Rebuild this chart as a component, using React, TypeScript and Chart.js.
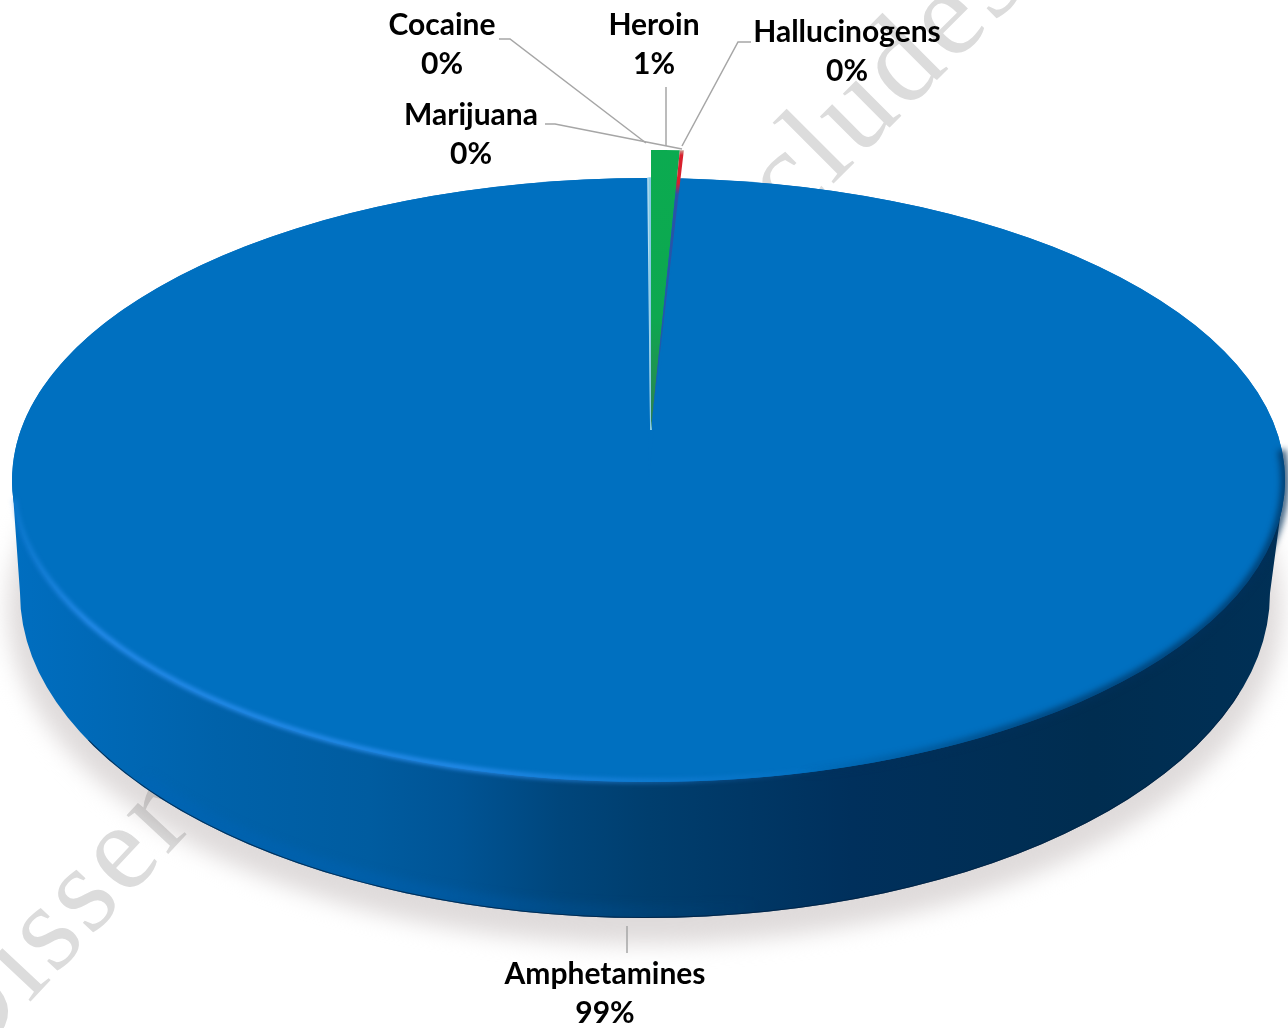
import React, { useEffect, useRef } from "react";
import { Chart, registerables } from "chart.js";

Chart.register(...registerables);

const categories = ["Amphetamines", "Marijuana", "Cocaine", "Heroin", "Hallucinogens"];
const shares = [99.1, 0.04, 0.04, 0.72, 0.1];
const sliceColors = ["#0070c0", "#b5dcef", "#86cbe6", "#0bab50", "#d8202c"];
const labelCenters = [
  [605, 974],
  [471, 115],
  [442, 25],
  [654, 25],
  [847, 32],
];
const leaderLines = [
  [[627, 926], [627, 953]],
  [[545, 124], [555, 124], [682, 149]],
  [[499, 39], [510, 39], [646, 143]],
  [[666, 87], [666, 146]],
  [[751, 42], [738, 42], [682, 146]],
];
const watermarkParts = [
  { text: "Disser", x: -35, y: 1072, angle: -47 },
  { text: "cludes", x: 790, y: 227, angle: -45 },
];

const FONT = 'bold 30px Lato, "Open Sans", sans-serif';
const TOP = { x: 648.5, y: 480, rx: 636.5, ry: 302 };
const BASE = { x: 645, y: 593, rx: 625, ry: 325 };
const WEDGE = { x: 651, y: 430, rx: 638, ry: 280 };

function transformTo(ctx: any, arc: any, t: any) {
  const R = arc.outerRadius;
  ctx.translate(t.x, t.y);
  ctx.scale(t.rx / R, t.ry / R);
  ctx.translate(-arc.x, -arc.y);
}

const pie3d = {
  id: "pie3d",
  beforeDatasetsDraw(chart: any) {
    const ctx = chart.ctx;
    const arcs = chart.getDatasetMeta(0).data;

    // soft shadow
    ctx.save();
    ctx.globalCompositeOperation = "multiply";
    ctx.filter = "blur(11px)";
    ctx.fillStyle = "#dfdbdb";
    ctx.beginPath();
    ctx.ellipse(BASE.x, BASE.y + 16, BASE.rx + 12, BASE.ry + 10, 0, 0, Math.PI * 2);
    ctx.fill();
    ctx.restore();

    // side wall
    const wall = ctx.createLinearGradient(TOP.x - TOP.rx, 0, TOP.x + TOP.rx, 0);
    wall.addColorStop(0, "#006ec0");
    wall.addColorStop(0.16, "#0062aa");
    wall.addColorStop(0.28, "#005ca0");
    wall.addColorStop(0.35, "#005495");
    wall.addColorStop(0.43, "#00467c");
    wall.addColorStop(0.5, "#003e6e");
    wall.addColorStop(0.66, "#00305c");
    wall.addColorStop(0.85, "#002d50");
    wall.addColorStop(1, "#003056");
    const wallPath = () => {
      ctx.beginPath();
      ctx.moveTo(TOP.x - TOP.rx, TOP.y);
      ctx.lineTo(BASE.x - BASE.rx, BASE.y);
      ctx.ellipse(BASE.x, BASE.y, BASE.rx, BASE.ry, 0, Math.PI, 0, true);
      ctx.lineTo(TOP.x + TOP.rx, TOP.y);
      ctx.closePath();
    };
    ctx.save();
    ctx.fillStyle = wall;
    wallPath();
    ctx.fill();
    // glow and dark line along the lower edge
    wallPath();
    ctx.clip();
    const glow = ctx.createLinearGradient(350, 0, 760, 0);
    glow.addColorStop(0, "rgba(0,100,185,0.4)");
    glow.addColorStop(1, "rgba(0,100,185,0)");
    ctx.save();
    ctx.filter = "blur(5px)";
    ctx.strokeStyle = glow;
    ctx.lineWidth = 14;
    ctx.beginPath();
    ctx.ellipse(BASE.x, BASE.y, BASE.rx - 6, BASE.ry - 6, 0, Math.PI * 0.8, Math.PI * 0.3, true);
    ctx.stroke();
    ctx.restore();
    ctx.strokeStyle = "rgba(0,32,64,0.75)";
    ctx.lineWidth = 2;
    ctx.beginPath();
    ctx.ellipse(BASE.x, BASE.y, BASE.rx, BASE.ry, 0, Math.PI * 0.85, Math.PI * 0.1, true);
    ctx.stroke();
    ctx.restore();

    // top face
    ctx.save();
    transformTo(ctx, arcs[0], TOP);
    ctx.fillStyle = sliceColors[0];
    ctx.beginPath();
    ctx.arc(arcs[0].x, arcs[0].y, arcs[0].outerRadius, 0, Math.PI * 2);
    ctx.fill();
    arcs[0].draw(ctx);
    ctx.restore();

    // rim light on the left, rim shade on the right
    const light = ctx.createLinearGradient(TOP.x - TOP.rx, 0, TOP.x + TOP.rx, 0);
    light.addColorStop(0, "rgba(43,143,240,0.25)");
    light.addColorStop(0.06, "rgba(43,143,240,0.9)");
    light.addColorStop(0.35, "rgba(43,143,240,0.9)");
    light.addColorStop(0.55, "rgba(43,143,240,0.25)");
    light.addColorStop(0.65, "rgba(43,143,240,0)");
    ctx.save();
    ctx.filter = "blur(2px)";
    ctx.strokeStyle = light;
    ctx.lineWidth = 5;
    ctx.beginPath();
    ctx.ellipse(TOP.x, TOP.y, TOP.rx - 1, TOP.ry - 1, 0, Math.PI * 0.98, Math.PI * 0.35, true);
    ctx.stroke();
    ctx.restore();

    const shade = ctx.createLinearGradient(TOP.x + 150, 0, TOP.x + TOP.rx, 0);
    shade.addColorStop(0, "rgba(0,48,90,0)");
    shade.addColorStop(0.5, "rgba(0,48,90,0.7)");
    shade.addColorStop(1, "rgba(0,48,90,0.8)");
    ctx.save();
    ctx.filter = "blur(3px)";
    ctx.strokeStyle = shade;
    ctx.lineWidth = 8;
    ctx.beginPath();
    ctx.ellipse(TOP.x, TOP.y, TOP.rx, TOP.ry, 0, Math.PI * 0.45, -0.1, true);
    ctx.stroke();
    ctx.restore();

    // the thin slices stand on a nearer apex than the big slice
    arcs.slice(1).forEach((arc: any) => {
      ctx.save();
      transformTo(ctx, arc, WEDGE);
      arc.draw(ctx);
      ctx.restore();
    });
    return false;
  },
  afterDraw(chart: any) {
    const ctx = chart.ctx;
    ctx.save();
    ctx.strokeStyle = "#a6a6a6";
    ctx.lineWidth = 1.5;
    leaderLines.forEach((pts) => {
      ctx.beginPath();
      pts.forEach(([x, y], i) => (i ? ctx.lineTo(x, y) : ctx.moveTo(x, y)));
      ctx.stroke();
    });
    ctx.fillStyle = "#000000";
    ctx.font = FONT;
    ctx.textAlign = "center";
    ctx.textBaseline = "middle";
    categories.forEach((name, i) => {
      const [x, y] = labelCenters[i];
      ctx.fillText(name, x, y);
      ctx.fillText(`${Math.round(shares[i])}%`, x, y + 39);
    });
    ctx.restore();
  },
  beforeDraw(chart: any) {
    const ctx = chart.ctx;
    ctx.save();
    ctx.fillStyle = "#ffffff";
    ctx.fillRect(0, 0, chart.width, chart.height);
    ctx.fillStyle = "#dcdcdc";
    ctx.font = '124px "Liberation Serif", serif';
    ctx.letterSpacing = "4px";
    watermarkParts.forEach((w) => {
      ctx.save();
      ctx.translate(w.x, w.y);
      ctx.rotate((w.angle * Math.PI) / 180);
      ctx.fillText(w.text, 0, 0);
      ctx.restore();
    });
    ctx.restore();
  },
};

function wedgeGradient(c: any, stops: [number, string][]) {
  const area = c.chart.chartArea;
  if (!area) return "#000";
  const R = Math.min(area.right - area.left, area.bottom - area.top) / 2;
  const cy = (area.top + area.bottom) / 2;
  const g = c.chart.ctx.createLinearGradient(0, cy - R, 0, cy);
  stops.forEach(([o, col]) => g.addColorStop(o, col));
  return g;
}

function sliceFill(c: any) {
  const i = c.dataIndex;
  if (i === 4) {
    return wedgeGradient(c, [
      [0, "#c8b0a0"],
      [0.02, "#d8202c"],
      [0.12, "#d8202c"],
      [0.16, "#2a52a8"],
      [1, "#1e5cab"],
    ]);
  }
  if (i === 1 || i === 2) {
    return wedgeGradient(c, [
      [0, "rgba(255,255,255,0)"],
      [0.098, "rgba(255,255,255,0)"],
      [0.1, sliceColors[i]],
      [1, sliceColors[i]],
    ]);
  }
  if (i === 3) {
    return wedgeGradient(c, [
      [0, sliceColors[3]],
      [0.6, "#0da850"],
      [1, "#2f7f50"],
    ]);
  }
  return sliceColors[i];
}

export default function App() {
  const ref = useRef<HTMLCanvasElement | null>(null);
  useEffect(() => {
    if (!ref.current) return;
    const chart = new Chart(ref.current, {
      type: "pie",
      data: {
        labels: categories,
        datasets: [
          {
            data: shares,
            backgroundColor: sliceFill as any,
            borderColor: sliceFill as any,
            borderWidth: ((c: any) => (c.dataIndex === 1 || c.dataIndex === 2 ? 1.5 : 0)) as any,
          },
        ],
      },
      options: {
        animation: false,
        responsive: false,
        rotation: ((shares[3] + shares[4]) / 100) * 360,
        layout: { padding: 0 },
        plugins: { legend: { display: false }, tooltip: { enabled: false } },
      },
      plugins: [pie3d as any],
    });
    return () => chart.destroy();
  }, []);
  return (
    <canvas
      ref={ref}
      width={1288}
      height={1028}
      style={{ position: "fixed", left: 0, top: 0, width: 1288, height: 1028, display: "block" }}
    />
  );
}
